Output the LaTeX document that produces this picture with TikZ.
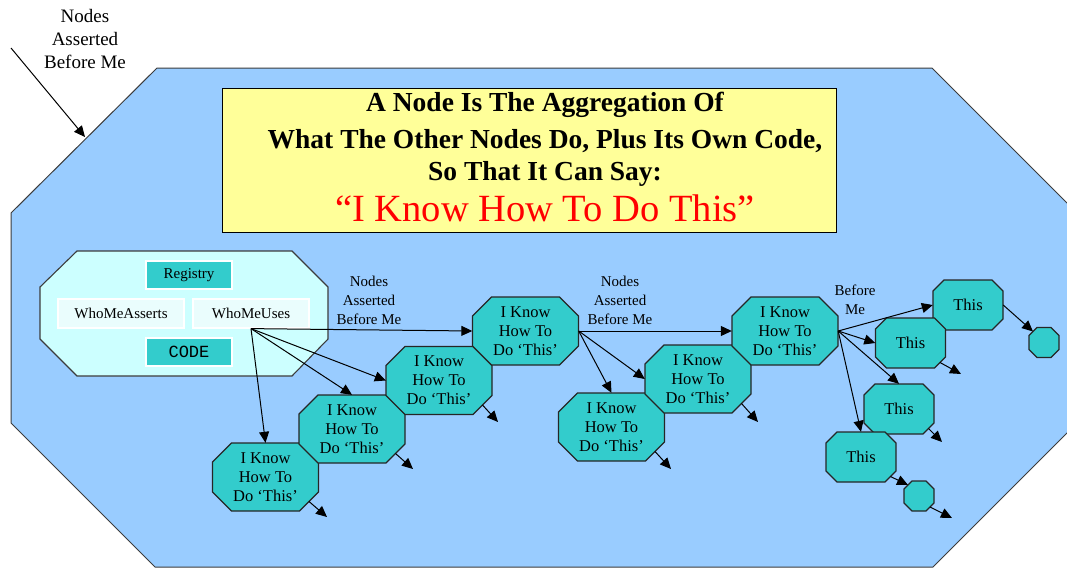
\documentclass[tikz,border=0pt]{standalone}
\usepackage{fontspec}
\setmainfont{Liberation Serif}
\newfontfamily\codefont{Liberation Mono}
\usetikzlibrary{arrows.meta,calc}

\definecolor{skyfill}{HTML}{99CCFF}
\definecolor{panelfill}{HTML}{CCFFFF}
\definecolor{tealfill}{HTML}{33CCCC}
\definecolor{notefill}{HTML}{FFFF99}
\definecolor{paleslot}{HTML}{EAFDFD}
\definecolor{edgegray}{HTML}{3C3C3C}

\newcommand\fsz[2]{\fontsize{#1}{#2}\selectfont}

% octagon node: name, centre x, centre y, half width, half height, chamfer, text
\newcommand\octnode[7]{%
  \draw[octa] ({#2-#4+#6},{#3-#5}) -- ({#2+#4-#6},{#3-#5}) -- ({#2+#4},{#3-#5+#6})
    -- ({#2+#4},{#3+#5-#6}) -- ({#2+#4-#6},{#3+#5}) -- ({#2-#4+#6},{#3+#5})
    -- ({#2-#4},{#3+#5-#6}) -- ({#2-#4},{#3-#5+#6}) -- cycle;
  \node[octtext, minimum width={2*#4}, minimum height={2*#5}] (#1) at (#2,#3) {#7};
  \coordinate (#1-se) at ({#2+#4-#6/2},{#3+#5-#6/2});
  \coordinate (#1-nw) at ({#2-#4+#6/2},{#3-#5+#6/2});
}

\begin{document}
\begin{tikzpicture}[x=1pt,y=-1pt,
  octa/.style={fill=tealfill, draw=black!85, line width=1.1pt, line join=miter},
  octtext/.style={inner sep=0pt, align=center, font=\fsz{16.5}{19}},
  link/.style={draw=black, line width=1pt, -{Triangle[length=11pt,width=10pt]}},
  lbl/.style={align=center, font=\fsz{15}{19}, inner sep=0pt},
  slot/.style={draw=white, line width=1.2pt, inner sep=0pt, font=\fsz{15}{18}},
]
\useasboundingbox (0,0) rectangle (1067,568);

% outer hull
\draw[edgegray, fill=skyfill, line width=1pt] (157,68) -- (932,68) -- (1069,205)
  -- (1069,431) -- (933,567) -- (155,567) -- (11,423) -- (11,213) -- cycle;

% pointer into the hull
\node[lbl, font=\fsz{19}{23}] (outerlbl) at (85,39) {Nodes\\Asserted\\Before Me};
\coordinate (outside) at (11,48);
\coordinate (hullpt) at (85,137);
\draw[link] (outside) -- (hullpt);

% heading
\node[draw=black, line width=1.4pt, fill=notefill, minimum width=614, minimum height=144,
  anchor=north west, inner sep=0pt] (note) at (222,88) {};
\node[anchor=base, inner sep=0pt, font=\fsz{27.5}{33}\bfseries] (h1) at (545,111) {A Node Is The Aggregation Of};
\node[anchor=base, inner sep=0pt, font=\fsz{27.5}{33}\bfseries] (h2) at (545,148) {What The Other Nodes Do, Plus Its Own Code,};
\node[anchor=base, inner sep=0pt, font=\fsz{27.5}{33}\bfseries] (h3) at (545,180) {So That It Can Say:};
\node[anchor=base, inner sep=0pt, text=red, font=\fsz{38.5}{40}] (h4) at (545,221.5) {“I Know How To Do This”};

% code panel
\draw[edgegray, fill=panelfill, line width=1.1pt] (77,251) -- (292,251) -- (328,287)
  -- (328,339) -- (292,376) -- (77,376) -- (40,339) -- (40,287) -- cycle;
\node[slot, fill=tealfill, minimum width=86, minimum height=28] (registry) at (189,275) {Registry};
\node[slot, fill=paleslot, minimum width=126, minimum height=29] (asserts) at (121,313.5) {WhoMeAsserts};
\node[slot, fill=paleslot, minimum width=116, minimum height=29] (uses) at (251,313.5) {WhoMeUses};
\node[slot, fill=tealfill, minimum width=86, minimum height=28, font=\codefont\fsz{17}{18}] (code) at (189,352) {CODE};

% capability nodes
\octnode{n1}{265.5}{477}{53}{34}{19}{I Know\\How To\\Do ‘This’}
\octnode{n2}{352}{429}{53}{34}{19}{I Know\\How To\\Do ‘This’}
\octnode{n3}{439}{380.5}{53}{34}{19}{I Know\\How To\\Do ‘This’}
\octnode{n4}{525.5}{331}{53}{34}{19}{I Know\\How To\\Do ‘This’}
\octnode{n5}{611.5}{427}{53}{34}{19}{I Know\\How To\\Do ‘This’}
\octnode{n6}{698}{379}{53}{34}{19}{I Know\\How To\\Do ‘This’}
\octnode{n7}{785}{331}{53}{34}{19}{I Know\\How To\\Do ‘This’}
\octnode{t1}{968}{305}{35}{25}{11}{This}
\octnode{t2}{910.5}{343}{35}{25}{11}{This}
\octnode{t3}{899}{409}{35}{25}{11}{This}
\octnode{t4}{861}{457}{35}{25}{11}{This}
\octnode{s1}{1044}{342.5}{15}{15}{8}{}
\octnode{s2}{919}{496}{15}{15}{8}{}

% edge labels
\node[lbl] (lblA) at (369,300) {Nodes\\Asserted\\Before Me};
\node[lbl] (lblB) at (620,300) {Nodes\\Asserted\\Before Me};
\node[lbl] (lblC) at (855,300) {Before\\Me};

% connectors
\draw[link] (uses.south) -- (n4.west);
\draw[link] (uses.south) -- (n3.west);
\draw[link] (uses.south) -- (n2.north);
\draw[link] (uses.south) -- (n1.north);
\draw[link] (n4.east) -- (n7.west);
\draw[link] (n4.east) -- (n6.west);
\draw[link] (n4.east) -- (n5.north);
\draw[link] (n7.east) -- (t1.west);
\draw[link] (n7.east) -- (t2.west);
\draw[link] (n7.east) -- (t3.north);
\draw[link] (n7.east) -- (t4.north);
\draw[link] (t1.east) -- (s1-nw);
\draw[link] (t4-se) -- (s2-nw);

% open-ended outputs
\coordinate (n1-out) at (327,517);
\coordinate (n2-out) at (413,469);
\coordinate (n3-out) at (498,422);
\coordinate (n5-out) at (671,469);
\coordinate (n6-out) at (758,422);
\coordinate (t2-out) at (961,374);
\coordinate (t3-out) at (942,442);
\coordinate (s2-out) at (952,518);
\draw[link] (n1-se) -- (n1-out);
\draw[link] (n2-se) -- (n2-out);
\draw[link] (n3-se) -- (n3-out);
\draw[link] (n5-se) -- (n5-out);
\draw[link] (n6-se) -- (n6-out);
\draw[link] (t2-se) -- (t2-out);
\draw[link] (t3-se) -- (t3-out);
\draw[link] (s2-se) -- (s2-out);
\end{tikzpicture}
\end{document}
